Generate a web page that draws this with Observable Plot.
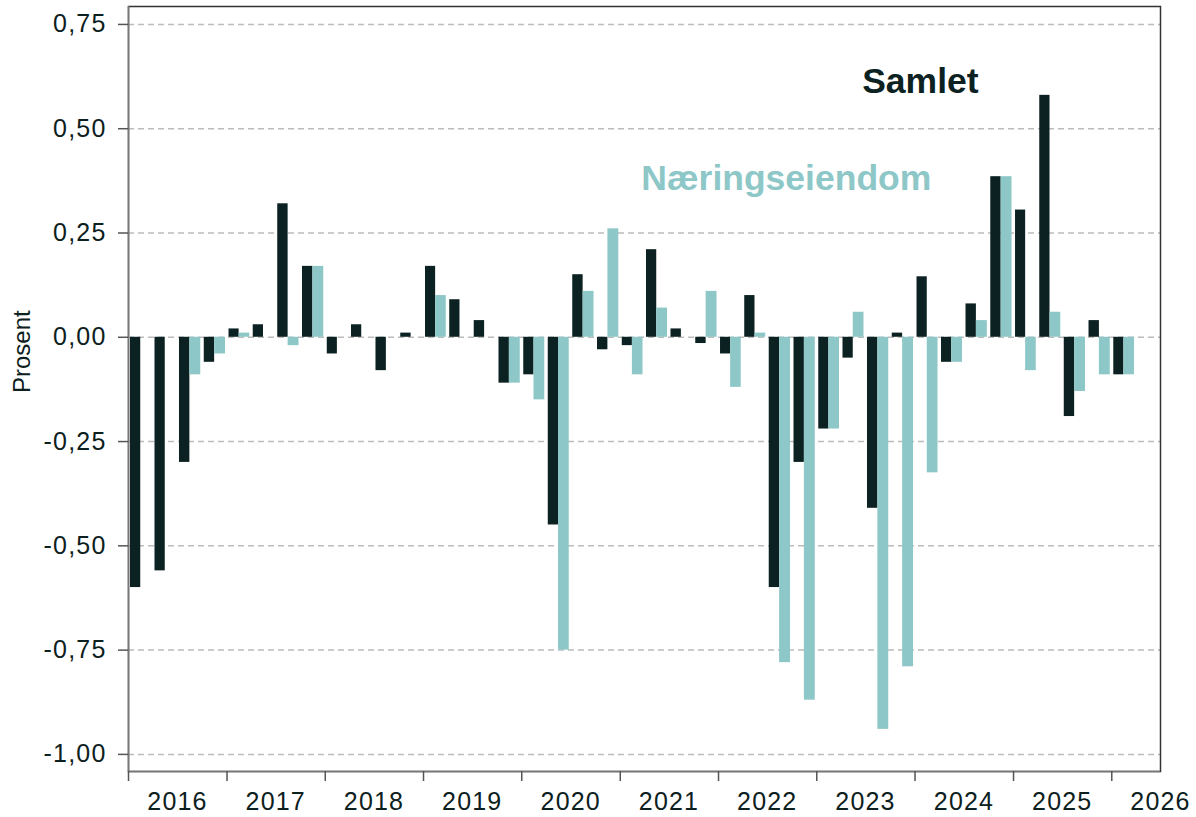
<!DOCTYPE html>
<html><head><meta charset="utf-8">
<script src="https://cdn.jsdelivr.net/npm/d3@7"></script>
<script src="https://cdn.jsdelivr.net/npm/@observablehq/plot@0.6"></script>
<style>
body{margin:0;background:#fff;}
svg{overflow:visible}
g[aria-label="y-axis tick label"] text, g[aria-label="x-axis tick label"] text{letter-spacing:1.2px}
</style>
</head><body><div id="chart"></div>
<script>
const quarters = ["2016K1","2016K2","2016K3","2016K4","2017K1","2017K2","2017K3","2017K4",
  "2018K1","2018K2","2018K3","2018K4","2019K1","2019K2","2019K3","2019K4",
  "2020K1","2020K2","2020K3","2020K4","2021K1","2021K2","2021K3","2021K4",
  "2022K1","2022K2","2022K3","2022K4","2023K1","2023K2","2023K3","2023K4",
  "2024K1","2024K2","2024K3","2024K4","2025K1","2025K2","2025K3","2025K4","2026K1"];
const samlet = [-0.60,-0.56,-0.30,-0.06, 0.02,0.03,0.32,0.17, -0.04,0.03,-0.08,0.01,
  0.17,0.09,0.04,-0.11, -0.09,-0.45,0.15,-0.03, -0.02,0.21,0.02,-0.015,
  -0.04,0.10,-0.60,-0.30, -0.22,-0.05,-0.41,0.01, 0.145,-0.06,0.08,0.385,
  0.305,0.58,-0.19,0.04, -0.09];
const naering = [null,null,-0.09,-0.04, 0.01,null,-0.02,0.17, null,null,null,null,
  0.10,null,null,-0.11, -0.15,-0.75,0.11,0.26, -0.09,0.07,null,0.11,
  -0.12,0.01,-0.78,-0.87, -0.22,0.06,-0.94,-0.79, -0.325,-0.06,0.04,0.385,
  -0.08,0.06,-0.13,-0.09, -0.09];
const yTicks = [0.75,0.50,0.25,0,-0.25,-0.50,-0.75,-1.00];
const years = [2016,2017,2018,2019,2020,2021,2022,2023,2024,2025,2026];
const seriesNames = ["Samlet","Næringseiendom"];
const labelDates = ["2024-01-21","2022-09-10"];
const labelValues = [0.614,0.381];

const dark = "#0c2121";
const light = "#8ec7c7";
const colors = [dark, light];

function qStart(q){ const [y,k]=q.split("K"); return new Date(Date.UTC(+y,(+k-1)*3,1)); }
function qEnd(q){ const [y,k]=q.split("K"); return new Date(Date.UTC(+y,(+k)*3,1)); }
const rows = quarters.map((q,i)=>{
  const s=qStart(q), e=qEnd(q);
  return {q, start:s, end:e, mid:new Date((+s + +e)/2), samlet:samlet[i], naering:naering[i]};
});
const labels = seriesNames.map((n,i)=>({name:n, date:new Date(labelDates[i]), value:labelValues[i], color:colors[i]}));
const yearBounds = years.map(y=>new Date(Date.UTC(y,0,1)));
const yearMids = years.map(y=>new Date(Date.UTC(y,6,1)));
const xDomain = [new Date(Date.UTC(2016,0,1)), new Date(Date.UTC(2026,6,1))];
const yDomain = [-1.041, 0.793];
const fmt = d => d3.format(".2f")(d).replace(".",",").replace("\u2212","-");

const chart = Plot.plot({
  width:1196, height:817,
  marginLeft:128, marginRight:36, marginTop:6, marginBottom:46,
  style:{fontFamily:"'Liberation Sans', Arial, sans-serif", fontSize:"25px", color:"#0d2020", background:"white", overflow:"visible"},
  x:{type:"utc", domain:xDomain, label:null},
  y:{domain:yDomain, label:null},
  marks:[
    Plot.ruleY(yTicks,{stroke:"#bcbcbc", strokeWidth:1.5, strokeDasharray:"6,4"}),
    Plot.rectY(rows.filter(d=>d.samlet!=null),{x1:"start",x2:"mid",y1:0,y2:"samlet",fill:dark, insetLeft:2}),
    Plot.rectY(rows.filter(d=>d.naering!=null),{x1:"mid",x2:"end",y1:0,y2:"naering",fill:light, insetRight:1.5}),
    Plot.frame({stroke:"#333", strokeWidth:1.5}),
    Plot.ruleX([xDomain[0]],{stroke:"#777", strokeWidth:1.5}),
    Plot.ruleY([yDomain[0]],{stroke:"#777", strokeWidth:1.5}),
    Plot.axisY(yTicks,{tickSize:10, tickPadding:12, tickFormat:fmt, stroke:"#555", strokeWidth:1.5, fontSize:25, label:null}),
    Plot.axisX(yearBounds,{tickSize:10, tickFormat:()=>"", stroke:"#555", strokeWidth:1.5, label:null}),
    Plot.axisX(yearMids,{tickSize:0, tickPadding:21, tickFormat:d=>String(d.getUTCFullYear()), fontSize:25, label:null}),
    Plot.text(labels,{x:"date", y:"value", text:"name", fill:"color", fontSize:35.5, fontWeight:"bold"}),
    Plot.text(["Prosent"],{frameAnchor:"left", rotate:-90, dx:-106, dy:4, fontSize:24, fill:"#0d2020"})
  ]
});
document.getElementById("chart").appendChild(chart);
</script>
</body></html>
